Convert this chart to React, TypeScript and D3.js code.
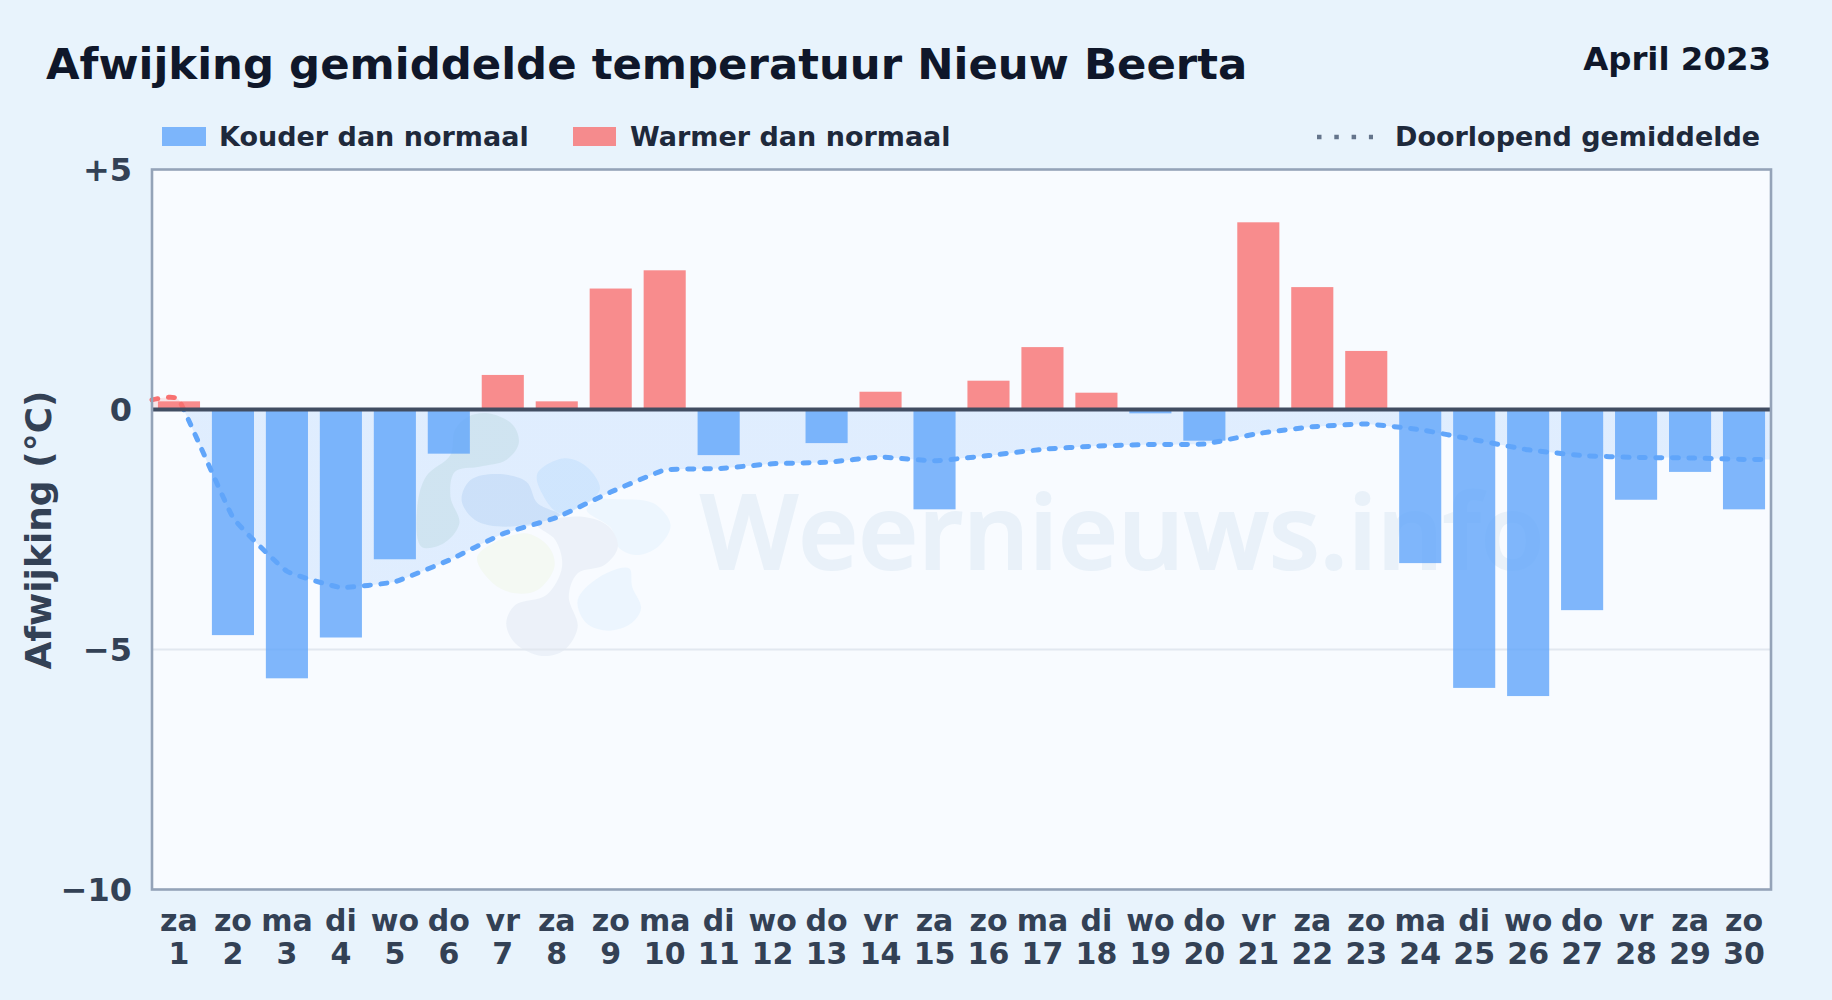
import * as d3 from "d3";

const W = 1832;
const H = 1000;

/* data */
const weekdays = ["za", "zo", "ma", "di", "wo", "do", "vr", "za", "zo", "ma", "di", "wo", "do", "vr", "za", "zo", "ma", "di", "wo", "do", "vr", "za", "zo", "ma", "di", "wo", "do", "vr", "za", "zo"];
const days = ["1", "2", "3", "4", "5", "6", "7", "8", "9", "10", "11", "12", "13", "14", "15", "16", "17", "18", "19", "20", "21", "22", "23", "24", "25", "26", "27", "28", "29", "30"];
const anomaly = [0.17, -4.7, -5.6, -4.75, -3.12, -0.92, 0.72, 0.17, 2.52, 2.9, -0.95, 0, -0.7, 0.37, -2.08, 0.6, 1.3, 0.35, -0.08, -0.65, 3.9, 2.55, 1.22, -3.2, -5.8, -5.97, -4.18, -1.88, -1.3, -2.08];
const runningMean = [0.2, -2.25, -3.37, -3.71, -3.59, -3.14, -2.59, -2.25, -1.72, -1.26, -1.23, -1.13, -1.1, -0.99, -1.07, -0.96, -0.83, -0.76, -0.73, -0.72, -0.5, -0.36, -0.3, -0.42, -0.63, -0.84, -0.96, -1.0, -1.01, -1.04];
const yTicks = [5, 0, -5, -10];

const COLD = "#60a5fa";
const WARM = "#f87171";
const INK = "#334155";

/* watermark logo outlines */
const logoBlobs: { fill: string; pts: [number, number][] }[] = [
  { fill: "#dcebe8", pts: [[310, 40], [365, 75], [378, 130], [350, 180], [290, 200], [235, 215], [225, 290], [245, 370], [210, 430], [160, 440], [150, 330], [170, 230], [225, 165], [235, 90], [265, 50]] },
  { fill: "#d5e5f6", pts: [[330, 222], [395, 245], [420, 310], [470, 345], [350, 380], [280, 360], [250, 300], [270, 240]] },
  { fill: "#dbeefe", pts: [[480, 175], [530, 200], [560, 265], [540, 300], [470, 340], [430, 280], [420, 220]] },
  { fill: "#e8f4fe", pts: [[600, 298], [680, 310], [718, 375], [690, 440], [640, 465], [600, 440], [585, 385], [530, 330], [555, 300]] },
  { fill: "#e6f3fe", pts: [[560, 530], [625, 505], [632, 560], [652, 625], [630, 670], [580, 692], [530, 670], [510, 600]] },
  { fill: "#e6edf6", pts: [[520, 350], [580, 380], [600, 440], [570, 495], [510, 520], [490, 590], [510, 680], [480, 750], [430, 768], [370, 730], [350, 670], [370, 615], [440, 585], [475, 500], [460, 420], [420, 375]] },
  { fill: "#f2f8ee", pts: [[390, 400], [445, 440], [458, 500], [420, 570], [370, 580], [320, 550], [285, 470]] },
];

export default function App() {
  const x = d3.scaleBand<string>().domain(days).range([152, 1771]).paddingInner(0.22).paddingOuter(0.11);
  const y = d3.scaleLinear().domain([5, -10]).range([169.5, 889.5]);
  const [left, right] = x.range();
  const cx = (d: string) => (x(d) as number) + x.bandwidth() / 2;

  // the line runs on to both plot edges
  const linePts: [number, number][] = [
    [left, runningMean[0]],
    ...days.map((d, i) => [cx(d), runningMean[i]] as [number, number]),
    [right, runningMean[runningMean.length - 1]],
  ];
  const curve = d3.curveCardinal.tension(0.7);
  const line = d3.line<[number, number]>().x((d) => d[0]).y((d) => y(d[1])).curve(curve);
  const area = d3.area<[number, number]>().x((d) => d[0]).y0(y(0)).y1((d) => y(d[1])).curve(curve);
  const blob = d3.line<[number, number]>().x((d) => 350 + d[0] / 2.24).y((d) => 400 + d[1] / 3).curve(d3.curveCatmullRomClosed);

  return (
    <svg
      width={W}
      height={H}
      viewBox={`0 0 ${W} ${H}`}
      style={{ position: "absolute", left: 0, top: 0, display: "block" }}
      fontFamily="'DejaVu Sans', sans-serif"
      fontWeight={700}
    >
      <defs>
        <linearGradient id="split" gradientUnits="userSpaceOnUse" x1={0} x2={0} y1={y(5)} y2={y(-10)}>
          <stop offset={(y(0) - y(5)) / (y(-10) - y(5))} stopColor={WARM} />
          <stop offset={(y(0) - y(5)) / (y(-10) - y(5))} stopColor={COLD} />
        </linearGradient>
      </defs>

      <rect width={W} height={H} fill="#e8f3fc" />
      <rect x={left} y={y(5)} width={right - left} height={y(-10) - y(5)} fill="#f8fbff" />

      {/* watermark */}
      <g opacity={0.65}>
        {logoBlobs.map((b, i) => (
          <path key={i} d={blob(b.pts) as string} fill={b.fill} />
        ))}
      </g>
      <text x={700} y={569} fontFamily="'Open Sans', sans-serif" fontWeight={600} fontSize={104} fill="#e9f1f9" stroke="#e9f1f9" strokeWidth={2}>
        Weernieuws.info
      </text>

      <line x1={left} x2={right} y1={y(-5)} y2={y(-5)} stroke="#e2e8f0" strokeWidth={2} />

      <path d={area(linePts) as string} fill="url(#split)" fillOpacity={0.16} />

      {days.map((d, i) => (
        <rect
          key={d}
          x={x(d)}
          width={x.bandwidth()}
          y={Math.min(y(0), y(anomaly[i]))}
          height={Math.abs(y(anomaly[i]) - y(0))}
          fill={anomaly[i] < 0 ? COLD : WARM}
          fillOpacity={0.8}
        />
      ))}

      <path
        d={line(linePts) as string}
        fill="none"
        stroke="url(#split)"
        strokeWidth={5}
        strokeLinecap="round"
        strokeDasharray="6 10.5"
      />

      <line x1={left} x2={right} y1={y(0)} y2={y(0)} stroke="#414d62" strokeWidth={4} />
      <rect x={left} y={y(5)} width={right - left} height={y(-10) - y(5)} fill="none" stroke="#94a3b8" strokeWidth={2.6} />

      {/* y axis */}
      {yTicks.map((t) => (
        <text key={t} x={132} y={y(t) + 11.5} textAnchor="end" fontSize={32} fill={INK}>
          {t > 0 ? `+${t}` : t < 0 ? `\u2212${-t}` : "0"}
        </text>
      ))}
      <text transform="translate(51,530) rotate(-90)" textAnchor="middle" fontSize={36} fill={INK}>
        Afwijking (°C)
      </text>

      {/* x axis */}
      {days.map((d, i) => (
        <g key={d} textAnchor="middle" fontSize={30} fill={INK}>
          <text x={cx(d)} y={931}>{weekdays[i]}</text>
          <text x={cx(d)} y={964}>{d}</text>
        </g>
      ))}

      {/* title */}
      <text x={46} y={79} fontSize={43.4} fill="#0f172a">Afwijking gemiddelde temperatuur Nieuw Beerta</text>
      <text x={1771} y={70} textAnchor="end" fontSize={32.4} fill="#0f172a">April 2023</text>

      {/* legend */}
      <rect x={162} y={127} width={44} height={19} fill={COLD} fillOpacity={0.8} />
      <text x={219} y={146} fontSize={27} fill="#1e293b">Kouder dan normaal</text>
      <rect x={573} y={127} width={43} height={19} fill={WARM} fillOpacity={0.8} />
      <text x={630} y={146} fontSize={27} fill="#1e293b">Warmer dan normaal</text>
      <line x1={1317} x2={1373} y1={137} y2={137} stroke="#64748b" strokeWidth={4.5} strokeDasharray="4.5 12.8" />
      <text x={1395} y={146} fontSize={27} fill="#1e293b">Doorlopend gemiddelde</text>
    </svg>
  );
}
